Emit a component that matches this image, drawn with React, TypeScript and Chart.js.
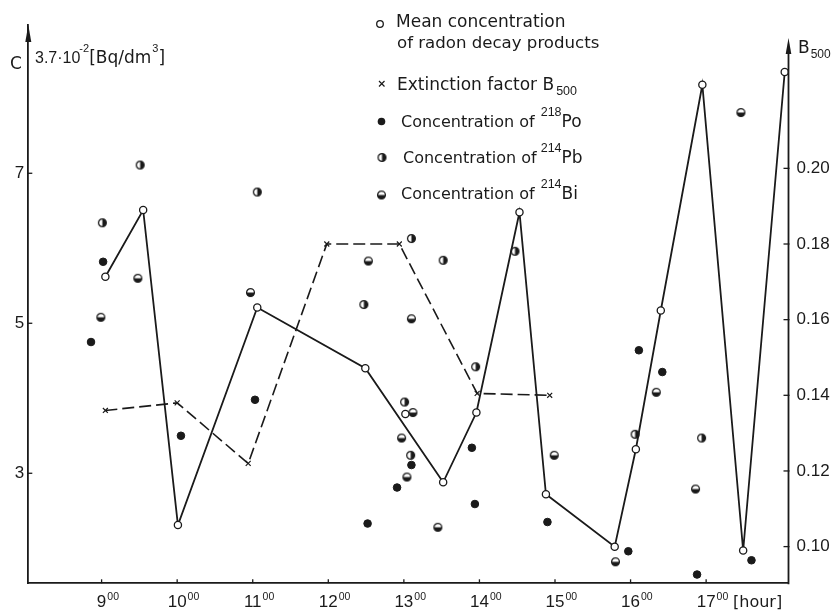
import React, { useEffect, useRef } from 'react';
import { Chart, registerables } from 'chart.js';

Chart.register(...registerables);

// ---- data (hours of day, C in units of 3.7e-2 Bq/dm3, B500) ----
const xTickHours = [9, 10, 11, 12, 13, 14, 15, 16, 17];
const leftTicks = [3, 5, 7];
const rightTicks = [0.1, 0.12, 0.14, 0.16, 0.18, 0.2];

const meanHours = [9.05, 9.55, 10.01, 11.06, 12.49, 13.52, 13.96, 14.53, 14.88, 15.79, 16.07, 16.4, 16.95, 17.49, 18.04];
const meanValues = [5.62, 6.51, 2.31, 5.21, 4.4, 2.88, 3.81, 6.48, 2.72, 2.02, 3.32, 5.17, 8.18, 1.97, 8.35];

const meanExtraHours = [13.02];
const meanExtraValues = [3.79];

const extHours = [9.05, 10.0, 10.94, 11.98, 12.94, 13.97, 14.93];
const extValues = [0.136, 0.138, 0.122, 0.18, 0.18, 0.1405, 0.14];

const poHours = [8.86, 9.02, 10.05, 11.03, 12.52, 12.91, 13.1, 13.9, 13.94, 14.9, 15.97, 16.11, 16.42, 16.88, 17.6];
const poValues = [4.75, 5.82, 3.5, 3.98, 2.33, 2.81, 3.11, 3.34, 2.59, 2.35, 1.96, 4.64, 4.35, 1.65, 1.84];

const pbHours = [9.01, 9.51, 11.06, 12.47, 13.01, 13.09, 13.1, 13.52, 13.95, 14.47, 16.06, 16.94];
const pbValues = [6.34, 7.11, 6.75, 5.25, 3.95, 3.24, 6.13, 5.84, 4.42, 5.96, 3.52, 3.47];

const biHours = [8.99, 9.48, 10.97, 12.53, 12.97, 13.04, 13.1, 13.12, 13.45, 14.99, 15.8, 16.34, 16.86, 17.46];
const biValues = [5.08, 5.6, 5.41, 5.83, 3.47, 2.95, 5.06, 3.81, 2.28, 3.24, 1.82, 4.08, 2.79, 7.81];

const INK = '#1a1a1a';
const FONT = "'Liberation Sans', Arial, sans-serif";
const WIDE = "'DejaVu Sans', 'Liberation Sans', sans-serif";

const pts = (xs: number[], ys: number[]) => xs.map((x, i) => ({ x, y: ys[i] }));

function halfMarker(kind: 'right' | 'bottom'): HTMLCanvasElement {
  const c = document.createElement('canvas');
  c.width = 11;
  c.height = 11;
  const g = c.getContext('2d')!;
  const cx = 5.5, cy = 5.5, r = 3.9;
  g.beginPath();
  g.arc(cx, cy, r, 0, Math.PI * 2);
  g.fillStyle = '#fff';
  g.fill();
  g.save();
  g.beginPath();
  g.arc(cx, cy, r, 0, Math.PI * 2);
  g.clip();
  g.fillStyle = INK;
  if (kind === 'right') g.fillRect(cx, 0, 11, 11);
  else g.fillRect(0, cy, 11, 11);
  g.restore();
  g.beginPath();
  g.arc(cx, cy, r, 0, Math.PI * 2);
  g.lineWidth = 1.3;
  g.strokeStyle = INK;
  g.stroke();
  return c;
}

type Part = { t: string; size: number; dy?: number; gap?: number; f?: string };
function drawRich(ctx: CanvasRenderingContext2D, x: number, baseline: number, parts: Part[]) {
  let cx = x;
  ctx.textAlign = 'left';
  ctx.textBaseline = 'alphabetic';
  for (const p of parts) {
    cx += p.gap || 0;
    ctx.font = `${p.size}px ${p.f || FONT}`;
    ctx.fillText(p.t, cx, baseline + (p.dy || 0));
    cx += ctx.measureText(p.t).width;
  }
}

export default function App() {
  const ref = useRef<HTMLCanvasElement | null>(null);

  useEffect(() => {
    if (!ref.current) return;
    const pbImg = halfMarker('right');
    const biImg = halfMarker('bottom');

    const decor = {
      id: 'decor',
      afterDraw(chart: any) {
        const ctx: CanvasRenderingContext2D = chart.ctx;
        const a = chart.chartArea;
        const xs = chart.scales.x;
        const yl = chart.scales.y;
        const yr = chart.scales.y2;
        ctx.save();
        ctx.strokeStyle = INK;
        ctx.fillStyle = INK;
        // left arrow
        ctx.beginPath();
        ctx.moveTo(a.left, a.top);
        ctx.lineTo(a.left - 3, a.top + 17);
        ctx.lineTo(a.left + 3, a.top + 17);
        ctx.closePath();
        ctx.fill();
        // right axis + arrow
        const rTop = 38;
        ctx.lineWidth = 1.8;
        ctx.beginPath();
        ctx.moveTo(a.right, a.bottom + 0.9);
        ctx.lineTo(a.right, rTop + 10);
        ctx.stroke();
        ctx.beginPath();
        ctx.moveTo(a.right, rTop);
        ctx.lineTo(a.right - 2.8, rTop + 16);
        ctx.lineTo(a.right + 2.8, rTop + 16);
        ctx.closePath();
        ctx.fill();
        // tick marks
        ctx.lineWidth = 1.3;
        for (const v of leftTicks) {
          const y = yl.getPixelForValue(v);
          ctx.beginPath();
          ctx.moveTo(a.left - 1, y);
          ctx.lineTo(a.left + 4, y);
          ctx.stroke();
        }
        for (const v of rightTicks) {
          const y = yr.getPixelForValue(v);
          ctx.beginPath();
          ctx.moveTo(a.right - 5, y);
          ctx.lineTo(a.right + 1, y);
          ctx.stroke();
        }
        for (const h of xTickHours) {
          const x = xs.getPixelForValue(h);
          ctx.beginPath();
          ctx.moveTo(x, a.bottom);
          ctx.lineTo(x, a.bottom - 4);
          ctx.stroke();
        }
        // x labels with superscript minutes
        for (const h of xTickHours) {
          const x = xs.getPixelForValue(h);
          ctx.font = `17px ${FONT}`;
          const s = String(h);
          const w = ctx.measureText(s).width;
          ctx.textAlign = 'left';
          ctx.textBaseline = 'alphabetic';
          ctx.fillText(s, x - w / 2, 607);
          ctx.font = `10.5px ${FONT}`;
          ctx.fillText('00', x + w / 2 + 1, 600);
        }
        drawRich(ctx, 733, 607, [{ t: '[hour]', size: 16, f: WIDE }]);
        // axis titles
        drawRich(ctx, 10, 69, [{ t: 'C', size: 17, f: WIDE }]);
        drawRich(ctx, 35, 63, [
          { t: '3.7\u00b710', size: 16 },
          { t: '-2', size: 11, dy: -11, gap: -1 },
          { t: '[Bq/dm', size: 17, f: WIDE },
          { t: '3', size: 11, dy: -11, gap: 1 },
          { t: ']', size: 17, f: WIDE },
        ]);
        drawRich(ctx, 798, 53, [
          { t: 'B', size: 17, f: WIDE },
          { t: '500', size: 12, dy: 5, gap: 1 },
        ]);
        // legend
        ctx.lineWidth = 1.3;
        ctx.beginPath();
        ctx.arc(380, 24, 3.3, 0, Math.PI * 2);
        ctx.fillStyle = '#fff';
        ctx.fill();
        ctx.stroke();
        ctx.fillStyle = INK;
        drawRich(ctx, 396, 27, [{ t: 'Mean concentration', size: 17, f: WIDE }]);
        drawRich(ctx, 397, 48, [{ t: 'of radon decay products', size: 16.6, f: WIDE }]);
        // extinction marker
        ctx.lineWidth = 1.2;
        ctx.beginPath();
        ctx.moveTo(379, 81);
        ctx.lineTo(384.5, 86.5);
        ctx.moveTo(384.5, 81);
        ctx.lineTo(379, 86.5);
        ctx.stroke();
        drawRich(ctx, 397, 90, [
          { t: 'Extinction factor B', size: 17, f: WIDE },
          { t: '500', size: 12.5, dy: 5, gap: 2 },
        ]);
        // Po
        ctx.beginPath();
        ctx.arc(381.5, 121.5, 3.8, 0, Math.PI * 2);
        ctx.fill();
        drawRich(ctx, 401, 127, [
          { t: 'Concentration of', size: 16, f: WIDE },
          { t: '218', size: 12.5, dy: -11, gap: 6 },
          { t: 'Po', size: 17, f: WIDE },
        ]);
        // Pb
        ctx.drawImage(pbImg, 382 - 5.5, 157.5 - 5.5);
        drawRich(ctx, 403, 163, [
          { t: 'Concentration of', size: 16, f: WIDE },
          { t: '214', size: 12.5, dy: -11, gap: 4 },
          { t: 'Pb', size: 17, f: WIDE },
        ]);
        // Bi
        ctx.drawImage(biImg, 381.5 - 5.5, 195 - 5.5);
        drawRich(ctx, 401, 199, [
          { t: 'Concentration of', size: 16, f: WIDE },
          { t: '214', size: 12.5, dy: -11, gap: 6 },
          { t: 'Bi', size: 17, f: WIDE },
        ]);
        ctx.restore();
      },
    };

    const chart = new Chart(ref.current, {
      type: 'scatter',
      data: {
        datasets: [
          {
            label: 'Mean concentration of radon decay products',
            data: pts(meanHours, meanValues),
            yAxisID: 'y',
            showLine: true,
            borderColor: INK,
            borderWidth: 1.8,
            pointStyle: 'circle',
            pointRadius: 3.6,
            pointBackgroundColor: '#fff',
            pointBorderColor: INK,
            pointBorderWidth: 1.3,
          },
          {
            label: 'Mean concentration (single)',
            data: pts(meanExtraHours, meanExtraValues),
            yAxisID: 'y',
            showLine: false,
            pointStyle: 'circle',
            pointRadius: 3.6,
            pointBackgroundColor: '#fff',
            pointBorderColor: INK,
            pointBorderWidth: 1.3,
          },
          {
            label: 'Extinction factor B500',
            data: pts(extHours, extValues),
            yAxisID: 'y2',
            showLine: true,
            borderColor: INK,
            borderWidth: 1.6,
            borderDash: [12, 5],
            pointStyle: 'crossRot',
            pointRadius: 3.5,
            pointBorderColor: INK,
            pointBorderWidth: 1.2,
          },
          {
            label: 'Concentration of 218Po',
            data: pts(poHours, poValues),
            yAxisID: 'y',
            showLine: false,
            pointStyle: 'circle',
            pointRadius: 3.8,
            pointBackgroundColor: INK,
            pointBorderColor: INK,
            pointBorderWidth: 1,
          },
          {
            label: 'Concentration of 214Pb',
            data: pts(pbHours, pbValues),
            yAxisID: 'y',
            showLine: false,
            pointStyle: pbImg as any,
            pointRadius: 4,
          },
          {
            label: 'Concentration of 214Bi',
            data: pts(biHours, biValues),
            yAxisID: 'y',
            showLine: false,
            pointStyle: biImg as any,
            pointRadius: 4,
          },
        ],
      },
      options: {
        animation: false,
        responsive: true,
        maintainAspectRatio: false,
        devicePixelRatio: 1,
        layout: { padding: { top: 25, left: 0, right: 0, bottom: 0 } },
        plugins: { legend: { display: false }, tooltip: { enabled: false } },
        scales: {
          x: {
            type: 'linear',
            position: 'bottom',
            min: 8.03,
            max: 18.09,
            afterBuildTicks: (s: any) => {
              s.ticks = xTickHours.map((v) => ({ value: v }));
            },
            afterFit: (s: any) => {
              s.height = 26.7;
            },
            ticks: { display: false },
            grid: { display: true, drawOnChartArea: false, drawTicks: false },
            border: { display: true, color: INK, width: 1.8 },
          },
          y: {
            type: 'linear',
            position: 'left',
            min: 1.533,
            max: 8.977,
            afterBuildTicks: (s: any) => {
              s.ticks = leftTicks.map((v) => ({ value: v }));
            },
            afterFit: (s: any) => {
              s.width = 28.3;
            },
            ticks: {
              autoSkip: false,
              padding: 4,
              color: INK,
              font: { family: FONT, size: 17 },
              callback: (v: any) => String(v),
            },
            grid: { display: true, drawOnChartArea: false, drawTicks: false },
            border: { display: true, color: INK, width: 1.8 },
          },
          y2: {
            type: 'linear',
            position: 'right',
            min: 0.0903,
            max: 0.2379,
            afterBuildTicks: (s: any) => {
              s.ticks = rightTicks.map((v) => ({ value: v }));
            },
            afterFit: (s: any) => {
              s.width = 50.5;
            },
            ticks: {
              autoSkip: false,
              padding: 8,
              color: INK,
              font: { family: FONT, size: 17 },
              callback: (v: any) => Number(v).toFixed(2),
            },
            grid: { display: true, drawOnChartArea: false, drawTicks: false },
            border: { display: false },
          },
        },
      },
      plugins: [decor],
    } as any);

    return () => chart.destroy();
  }, []);

  return (
    <div style={{ position: 'fixed', left: 0, top: 0, width: 839, height: 610, background: '#fff' }}>
      <canvas ref={ref} style={{ display: 'block' }} />
    </div>
  );
}
